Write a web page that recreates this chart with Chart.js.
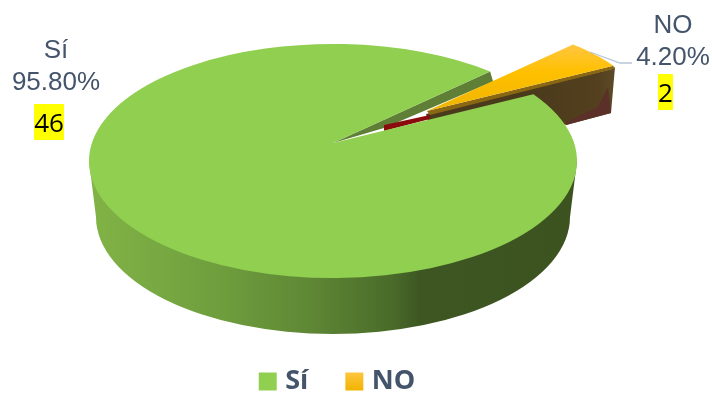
<!DOCTYPE html>
<html><head><meta charset="utf-8">
<style>html,body{margin:0;padding:0;background:#fff}#w{width:712px;height:394px}</style>
<script src="https://cdn.jsdelivr.net/npm/chart.js@4/dist/chart.umd.min.js"></script>
</head><body><div id="w"><canvas id="c" width="712" height="394"></canvas></div>
<script>
const categories = ['Sí', 'NO'];
const percents = [95.8, 4.2];
const counts = [46, 2];
const percentLabels = ['95.80%', '4.20%'];

const C = {cx:333, cy:161, rx:244, ry:117, ax:333, ay:143};
const E = a => [C.cx + C.rx*Math.cos(a), C.cy + C.ry*Math.sin(a)];
function poly(ctx, pts, fill){ctx.beginPath();pts.forEach((p,i)=>i?ctx.lineTo(p[0],p[1]):ctx.moveTo(p[0],p[1]));ctx.closePath();ctx.fillStyle=fill;ctx.fill();}
function lin(ctx,x0,y0,x1,y1,stops){const g=ctx.createLinearGradient(x0,y0,x1,y1);stops.forEach(s=>g.addColorStop(s[0],s[1]));return g;}

const pie3d = {
  id:'pie3d',
  beforeDatasetsDraw(chart){
    const ctx = chart.ctx, arcs = chart.getDatasetMeta(0).data;
    const g = arcs[0], n = arcs[1];
    const gS = E(g.startAngle), gE = E(g.endAngle);
    ctx.save();
    // outer wall of the large slice
    ctx.beginPath();
    ctx.moveTo(C.cx-C.rx, C.cy);
    ctx.lineTo(96, 217);
    ctx.ellipse(333, 217, 237, 117, 0, Math.PI, 0, true);
    ctx.lineTo(C.cx+C.rx, C.cy);
    ctx.closePath();
    ctx.fillStyle = lin(ctx,89,0,577,0,[[0,'#82b346'],[0.25,'#70a03e'],[0.45,'#5f8835'],[0.62,'#4a6b2a'],[0.68,'#3d5622'],[1,'#3c5320']]);
    ctx.fill();
    // back wall of the exploded slice
    poly(ctx,[[426,114],[612,69],[615,67],[611,113],[566,125],[533,110],[428,121]], lin(ctx,530,0,615,0,[[0,'#4a3a1c'],[0.8,'#54401e'],[1,'#5c4a28']]));
    poly(ctx,[[608,87],[598,107],[566,122],[566,125],[611,113]],'#5b3029');
    // inner wall of the notch
    poly(ctx,[[C.ax,C.ay],gE,[gE[0]+3,gE[1]+10],[384,128]],'#5f7f37');
    poly(ctx,[[384,125],[430,115],[430,119],[384,131]],'#8a0c0c');
    // top face
    ctx.beginPath();
    ctx.moveTo(C.ax,C.ay);
    ctx.lineTo(gS[0],gS[1]);
    ctx.ellipse(C.cx,C.cy,C.rx,C.ry,0,g.startAngle,g.endAngle,false);
    ctx.closePath();
    ctx.fillStyle = g.options.backgroundColor;
    ctx.fill();
    // exploded slice
    const Y=[427,111], k=0.93;
    const M = a => {const e=E(a);return [Y[0]+k*(e[0]-C.ax),Y[1]+k*(e[1]-C.ay)];};
    const nS=M(n.startAngle), nE=M(n.endAngle);
    poly(ctx,[Y,nE,[nE[0]+1,nE[1]+3],[Y[0]+3,Y[1]+4]],'#8a6712');
    ctx.beginPath();
    ctx.moveTo(Y[0],Y[1]);
    ctx.lineTo(nS[0],nS[1]);
    const steps=16;
    for(let i=1;i<=steps;i++){const p=M(n.startAngle+(n.endAngle-n.startAngle)*i/steps);ctx.lineTo(p[0],p[1]);}
    ctx.closePath();
    ctx.fillStyle = lin(ctx,0,45,0,112,[[0,'#ffc63f'],[0.4,'#ffc000'],[1,'#f0b400']]);
    ctx.fill();
    ctx.restore();
    return false;
  },
  afterDraw(chart){
    const ctx = chart.ctx;
    ctx.save();
    ctx.strokeStyle='#b9c5d8';ctx.lineWidth=1.3;
    ctx.beginPath();ctx.moveTo(590,52);ctx.lineTo(620,63);ctx.lineTo(632,63);ctx.stroke();
    ctx.textAlign='center';ctx.textBaseline='alphabetic';
    ctx.font='26px "Liberation Sans"';ctx.fillStyle='#44546a';
    ctx.fillText(categories[0],56,58);ctx.fillText(percentLabels[0],56,90);
    ctx.fillText(categories[1],673,33);ctx.fillText(percentLabels[1],673,65);
    ctx.fillStyle='#ffff00';ctx.fillRect(34,104,30,36);ctx.fillRect(658,74,15,36);
    ctx.font='26px "Open Sans"';ctx.fillStyle='#000';
    ctx.fillText(String(counts[0]),49,132);ctx.fillText(String(counts[1]),665.5,102);
    ctx.restore();
  }
};

const swatches = c => [
  c.data.datasets[0].backgroundColor[0],
  lin(c.ctx,0,372,0,391,[[0,'#ffc63f'],[1,'#f0b400']])
];
new Chart(document.getElementById('c'),{
  type:'pie',
  data:{labels:categories,datasets:[{data:percents,backgroundColor:['#90cf50','#ffc000'],borderWidth:0}]},
  plugins:[pie3d],
  options:{
    responsive:false,animation:false,
    rotation:55.2,
    layout:{padding:{left:0,right:33,top:0,bottom:-11}},
    plugins:{
      tooltip:{enabled:false},
      legend:{position:'bottom',
        labels:{boxWidth:8,boxHeight:8,padding:42,color:'#44546a',
          font:{family:'"Open Sans"',size:27,weight:'bold'},
          generateLabels(c){const s=swatches(c);return categories.map((t,i)=>({text:t,fillStyle:s[i],strokeStyle:s[i],lineWidth:10,fontColor:'#44546a',index:i}));}
        }}
    }
  }
});
</script></body></html>
